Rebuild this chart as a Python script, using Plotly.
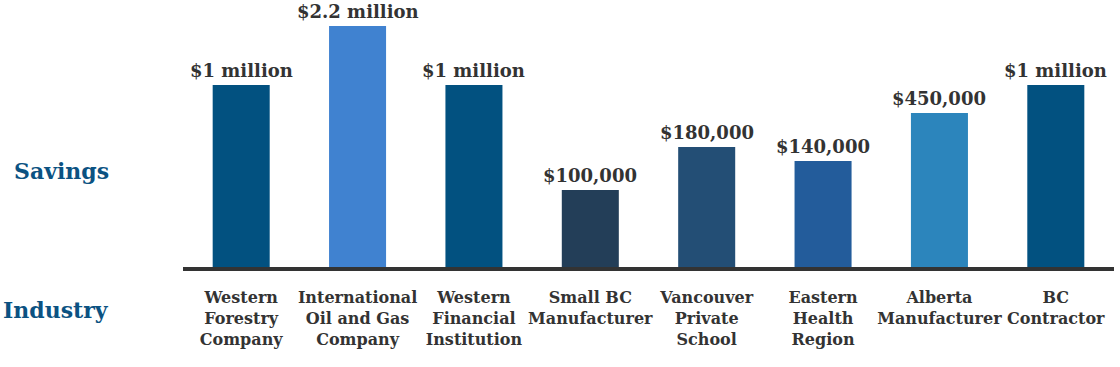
import plotly.graph_objects as go

categories = [
    "Western<br>Forestry<br>Company",
    "International<br>Oil and Gas<br>Company",
    "Western<br>Financial<br>Institution",
    "Small BC<br>Manufacturer",
    "Vancouver<br>Private<br>School",
    "Eastern<br>Health<br>Region",
    "Alberta<br>Manufacturer",
    "BC<br>Contractor",
]
savings_labels = ["$1 million", "$2.2 million", "$1 million", "$100,000",
                  "$180,000", "$140,000", "$450,000", "$1 million"]
# visual bar heights as drawn in the reference (not proportional to savings)
bar_heights = [182, 241, 182, 77, 120, 106, 154, 182]
bar_colors = ["#025180", "#4082d0", "#025180", "#233e58",
              "#234e75", "#235c9b", "#2c85bc", "#025180"]

FONT = "DejaVu Serif"

fig = go.Figure(go.Bar(
    x=categories,
    y=bar_heights,
    marker=dict(color=bar_colors, line=dict(width=0)),
    cliponaxis=False,
    hoverinfo="skip",
))

value_annotations = [
    dict(x=c, y=h, xref="x", yref="y", text=t, showarrow=False,
         xanchor="center", yanchor="bottom", yshift=3, borderpad=0,
         font=dict(family=FONT, size=18, color="#333333", weight="bold"))
    for c, h, t in zip(categories, bar_heights, savings_labels)
]

fig.update_layout(
    width=1120, height=367,
    margin=dict(l=183, r=6, t=0, b=100),
    paper_bgcolor="white", plot_bgcolor="white",
    bargap=0.51,
    showlegend=False,
    xaxis=dict(
        showline=True, linecolor="#333333", linewidth=4,
        showgrid=False, zeroline=False,
        tickfont=dict(family=FONT, size=16, color="#333333", weight="bold"),
        ticks="", ticklabelstandoff=13,
    ),
    yaxis=dict(range=[0, 267], visible=False, showgrid=False, zeroline=False),
    annotations=value_annotations + [
        dict(text="Savings", xref="paper", yref="paper", x=-0.0775, y=0.36,
             xanchor="right", yanchor="middle", showarrow=False,
             font=dict(family=FONT, size=22, color="#0b5282", weight="bold")),
        dict(text="Industry", xref="paper", yref="paper", x=-0.0775, y=-0.16,
             xanchor="right", yanchor="middle", showarrow=False,
             font=dict(family=FONT, size=22, color="#0b5282", weight="bold")),
    ],
)

fig.write_html("out.html")
